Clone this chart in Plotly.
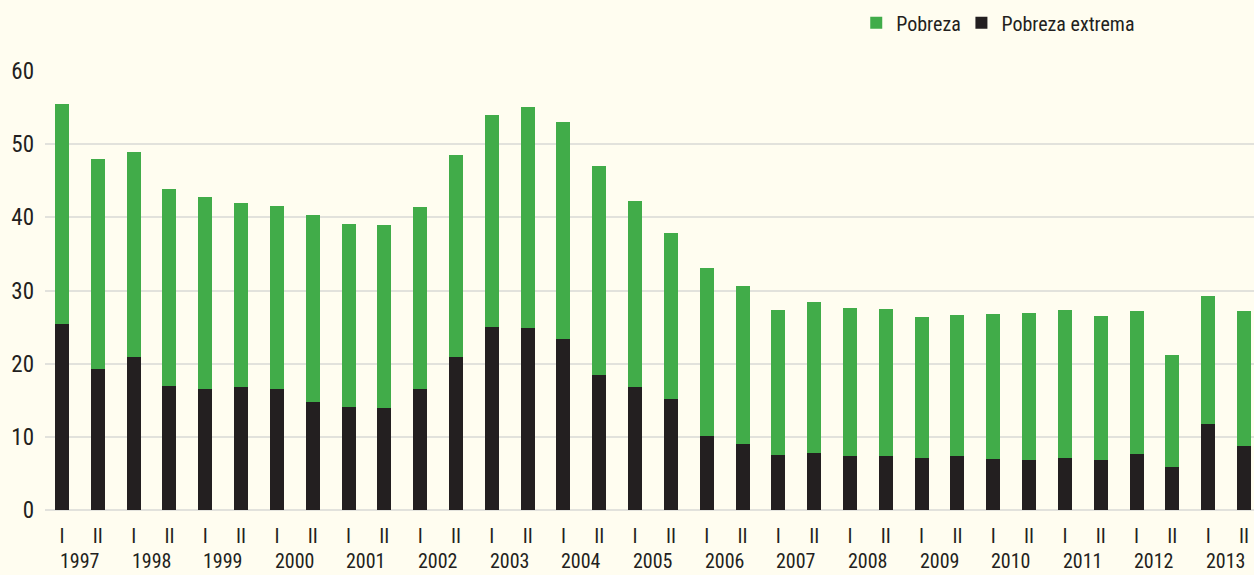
import plotly.graph_objects as go

# 1997 I ... 2013 II (semesters)
years = list(range(1997, 2014))
semesters = ["I", "II"]

pobreza_total = [55.5, 48.0, 48.9, 43.9, 42.8, 41.9, 41.5, 40.3, 39.1, 38.9,
                 41.4, 48.5, 54.0, 55.1, 53.0, 47.0, 42.3, 37.8, 33.1, 30.6,
                 27.3, 28.4, 27.6, 27.5, 26.4, 26.6, 26.8, 26.9, 27.3, 26.5,
                 27.2, 21.2, 29.2, 27.2]
pobreza_extrema = [25.4, 19.3, 20.9, 17.0, 16.5, 16.8, 16.6, 14.8, 14.1, 14.0,
                   16.5, 20.9, 25.0, 24.9, 23.4, 18.5, 16.8, 15.2, 10.1, 9.0,
                   7.5, 7.8, 7.4, 7.4, 7.1, 7.4, 7.0, 6.8, 7.1, 6.9,
                   7.6, 5.9, 11.7, 8.8]

GREEN = "#41ac49"
BLACK = "#231f20"
BG = "#fffdf0"
FONT = "Roboto Condensed, DejaVu Sans Condensed, sans-serif"

x = list(range(len(pobreza_total)))
ticktext = [s for _ in years for s in semesters]
resto = [round(t - e, 2) for t, e in zip(pobreza_total, pobreza_extrema)]

fig = go.Figure()
fig.add_trace(go.Bar(x=x, y=pobreza_extrema, name="Pobreza extrema",
                     marker=dict(color=BLACK, line=dict(width=0)),
                     width=0.39, legend="legend2"))
fig.add_trace(go.Bar(x=x, y=resto, name="Pobreza",
                     marker=dict(color=GREEN, line=dict(width=0)),
                     width=0.39, legend="legend"))

# year labels under each pair of semesters
for i, yr in enumerate(years):
    fig.add_annotation(x=2 * i + 0.5, y=0, xref="x", yref="paper",
                       text=str(yr), showarrow=False, yanchor="top",
                       yshift=-38, borderpad=0,
                       font=dict(size=20, color=BLACK, family=FONT))

leg = dict(orientation="h", xanchor="left", y=1.11, yanchor="middle",
           font=dict(size=20, family=FONT, color=BLACK),
           itemwidth=30, bgcolor="rgba(0,0,0,0)")

fig.update_layout(
    width=1254, height=575,
    barmode="stack",
    paper_bgcolor=BG, plot_bgcolor=BG,
    margin=dict(l=45, r=0, t=71, b=65),
    font=dict(family=FONT, color=BLACK, size=20),
    showlegend=True,
    legend=dict(leg, x=0.671),
    legend2=dict(leg, x=0.758),
    xaxis=dict(range=[-0.475, 33.28], tickmode="array", tickvals=x, ticktext=ticktext,
               showgrid=False, zeroline=False, showline=False, ticks="",
               ticklabelstandoff=12, tickfont=dict(size=20, family=FONT, color=BLACK)),
    yaxis=dict(range=[0, 60], tickvals=[0, 10, 20, 30, 40, 50, 60],
               showgrid=True, gridcolor="#e2e2dc", gridwidth=1.5,
               zeroline=True, zerolinecolor="#e2e2dc", zerolinewidth=1.5,
               ticks="", ticklabelstandoff=10,
               tickfont=dict(size=23, family=FONT, color=BLACK)),
)

fig.write_html("out.html", config={"displayModeBar": False},
               post_script="document.body.style.margin='0';")
